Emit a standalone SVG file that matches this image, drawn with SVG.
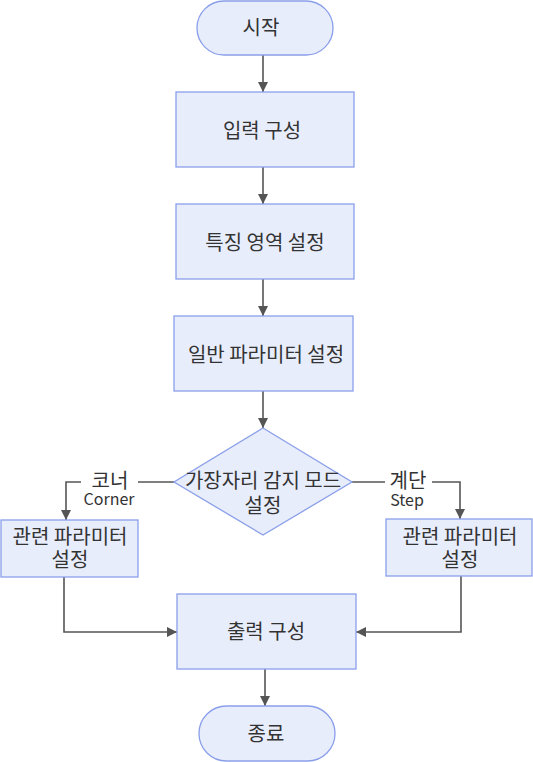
<svg xmlns="http://www.w3.org/2000/svg" width="533" height="762" viewBox="0 0 533 762">
<style>
.n{fill:#E8EDFB;stroke:#8A9FEA;stroke-width:1.3}
.t{font-family:"Noto Sans CJK KR","Noto Sans",sans-serif;font-size:20px;fill:#333;text-anchor:middle}
.l{font-family:"Noto Sans CJK KR","Noto Sans",sans-serif;font-size:20px;fill:#333;text-anchor:middle}
.le{font-family:"Noto Sans CJK KR","Noto Sans",sans-serif;font-size:16px;fill:#333;text-anchor:middle}
.c{fill:none;stroke:#555;stroke-width:1.6}
</style>
<defs>
<marker id="a" viewBox="0 0 10 10" refX="10" refY="5" markerWidth="10" markerHeight="10" markerUnits="userSpaceOnUse" orient="auto">
<path d="M0,0 L10,5 L0,10 z" fill="#555"/>
</marker>
</defs>
<rect width="533" height="762" fill="#fff"/>
<g id="connectors">
<path class="c" d="M263,55 V92" marker-end="url(#a)"/>
<path class="c" d="M263,167 V204" marker-end="url(#a)"/>
<path class="c" d="M263,279 V316" marker-end="url(#a)"/>
<path class="c" d="M263,391 V428" marker-end="url(#a)"/>
<path class="c" d="M174,482 H66 V520" marker-end="url(#a)"/>
<path class="c" d="M352,482 H460 V519" marker-end="url(#a)"/>
<path class="c" d="M64,577 V632 H177" marker-end="url(#a)"/>
<path class="c" d="M461,576 V632 H356" marker-end="url(#a)"/>
<path class="c" d="M265,669 V706" marker-end="url(#a)"/>
</g>
<g id="label-corner">
<rect x="81" y="468" width="57" height="44" fill="#fff"/>
<text class="l" x="110" y="488">코너</text>
<text class="le" x="109" y="505">Corner</text>
</g>
<g id="label-step">
<rect x="385" y="468" width="47" height="44" fill="#fff"/>
<text class="l" x="408" y="488">계단</text>
<text class="le" x="407" y="506">Step</text>
</g>
<g id="start">
<rect class="n" x="197" y="1" width="136" height="54" rx="27"/>
<text class="t" x="261" y="35">시작</text>
</g>
<g id="input">
<rect class="n" x="176" y="92" width="178" height="75"/>
<text class="t" x="262" y="138">입력 구성</text>
</g>
<g id="feature">
<rect class="n" x="176" y="204" width="178" height="75"/>
<text class="t" x="265" y="250">특징 영역 설정</text>
</g>
<g id="general">
<rect class="n" x="174" y="316" width="179" height="75"/>
<text class="t" x="266" y="362">일반 파라미터 설정</text>
</g>
<g id="edge-mode">
<polygon class="n" points="263,428 352,482 263,535 174,482"/>
<text class="t" x="263" y="488">가장자리 감지 모드</text>
<text class="t" x="263" y="513">설정</text>
</g>
<g id="corner-params">
<rect class="n" x="1" y="520" width="137" height="57"/>
<text class="t" x="70" y="544">관련 파라미터</text>
<text class="t" x="70" y="567">설정</text>
</g>
<g id="step-params">
<rect class="n" x="386" y="519" width="146" height="57"/>
<text class="t" x="460" y="544">관련 파라미터</text>
<text class="t" x="460" y="567">설정</text>
</g>
<g id="output">
<rect class="n" x="177" y="594" width="179" height="75"/>
<text class="t" x="266" y="639">출력 구성</text>
</g>
<g id="end">
<rect class="n" x="199" y="706" width="136" height="55" rx="27.5"/>
<text class="t" x="266" y="741">종료</text>
</g>
</svg>
